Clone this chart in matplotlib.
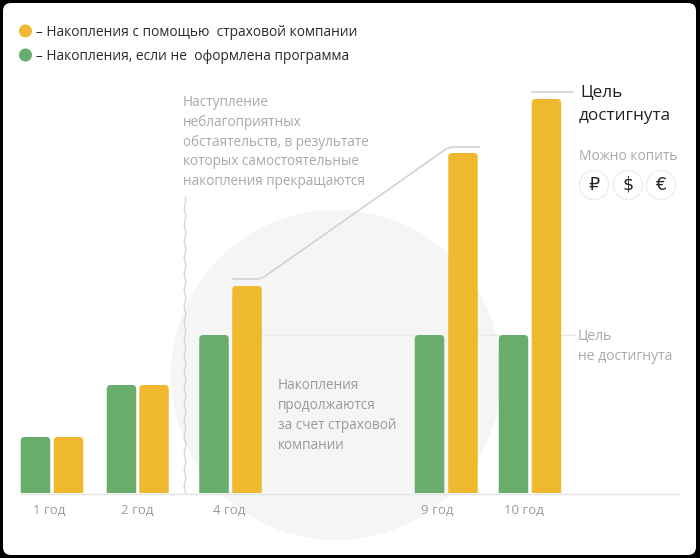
import numpy as np
import matplotlib
matplotlib.use('Agg')
import matplotlib.pyplot as plt
from matplotlib.patches import Circle, FancyBboxPatch, PathPatch
from matplotlib.path import Path

plt.rcParams['font.family'] = ['Open Sans', 'Noto Sans', 'DejaVu Sans']

# Data
years = ['1 год', '2 год', '4 год', '9 год', '10 год']
year_label_x = [49, 137, 229, 437, 524]
green_x = [35.5, 121.5, 214, 429.5, 513.5]
yellow_x = [68.5, 154, 247, 463, 546.5]
green_vals = [56, 108, 158, 158, 158]
yellow_vals = [56, 108, 207, 340, 394]
legend_labels = ['– Накопления с помощью  страховой компании',
                 '– Накопления, если не  оформлена программа']

GREEN = '#68ad6c'
YELLOW = '#eeb92f'
BAR_W = 29.5
LINE = '#d2d2d2'
GREY = '#a9a9a9'


def rounded_bar(ax, x, h, color, r=4):
    l, rr = x - BAR_W / 2, x + BAR_W / 2
    verts = [(l, 0), (l, h - r), (l, h), (l + r, h), (rr - r, h), (rr, h), (rr, h - r), (rr, 0), (l, 0)]
    codes = [Path.MOVETO, Path.LINETO, Path.CURVE3, Path.CURVE3, Path.LINETO,
             Path.CURVE3, Path.CURVE3, Path.LINETO, Path.CLOSEPOLY]
    ax.add_patch(PathPatch(Path(verts, codes), fc=color, ec='none', zorder=3))


fig = plt.figure(figsize=(7, 5.58), dpi=100, facecolor='black')

# Background layer in picture pixels
bg = fig.add_axes([0, 0, 1, 1])
bg.set_xlim(0, 700)
bg.set_ylim(558, 0)
bg.axis('off')
bg.add_patch(FancyBboxPatch((11, 11), 677, 536, boxstyle='round,pad=8,rounding_size=8', fc='white', ec='none', zorder=0))
bg.add_patch(Circle((336, 375), 165, fc='#f5f5f5', ec='none', zorder=1))

# Wavy separator
wy = np.linspace(197, 493, 400)
bg.plot(185 + 0.8 * np.sin(wy / 2.6), wy, color='#d4d4d4', lw=0.9, zorder=2)

# Leader lines
bg.plot([233, 258, 264, 446, 452, 479], [279, 279, 277, 149, 147, 147], color=LINE, lw=1.2, zorder=2)
bg.plot([532, 573], [92, 92], color=LINE, lw=1.2, zorder=2)
bg.plot([262, 415], [335, 335], color='#e8e8e8', lw=1, zorder=2)
bg.plot([478, 499], [335, 335], color='#e8e8e8', lw=1, zorder=2)
bg.plot([561, 575], [335, 335], color='#e8e8e8', lw=1, zorder=2)

# Legend
for y, c, lab in zip([31, 55], [YELLOW, GREEN], legend_labels):
    bg.add_patch(Circle((25.5, y), 6.5, fc=c, ec='none', zorder=3))
    bg.text(36, y + 1, lab, fontsize=9.9, color='#2b2b2b', va='center', ha='left')

# Annotations
note = ['Наступление', 'неблагоприятных', 'обстаятельств, в результате',
        'которых самостоятельные', 'накопления прекращаются']
for i, s in enumerate(note):
    bg.text(183, 102.5 + i * 19.8, s, fontsize=9.8, color=GREY, va='center')
cont = ['Накопления', 'продолжаются', 'за счет страховой', 'компании']
for i, s in enumerate(cont):
    bg.text(278, 385.5 + i * 20, s, fontsize=9.8, color='#9a9a9a', va='center')
bg.text(580, 93, 'Цель', fontsize=12.3, color='#222222', va='center')
bg.text(579, 116, 'достигнута', fontsize=12.3, color='#222222', va='center')
bg.text(579, 156.5, 'Можно копить', fontsize=9.9, color=GREY, va='center')
bg.text(578, 336, 'Цель', fontsize=10, color=GREY, va='center')
bg.text(578, 356, 'не достигнута', fontsize=10, color=GREY, va='center')
for x, s in zip([594, 628, 661], ['₽', '$', '€']):
    bg.add_patch(Circle((x, 185), 14.5, fc='white', ec='#eeeeee', lw=1, zorder=3))
    bg.text(x, 185, s, fontsize=12.5, color='#222222', ha='center', va='center', zorder=4, family='DejaVu Sans')

# Bars, value 0 sits on the baseline at pixel row 493
ax = fig.add_axes([0, 65 / 558, 1, 493 / 558])
ax.patch.set_alpha(0)
ax.set_xlim(0, 700)
ax.set_ylim(0, 493)
for x, v in zip(green_x, green_vals):
    rounded_bar(ax, x, v, GREEN)
for x, v in zip(yellow_x, yellow_vals):
    rounded_bar(ax, x, v, YELLOW)
ax.set_yticks([])
ax.set_xticks(year_label_x, years)
ax.tick_params(axis='x', length=0, pad=8, labelsize=9.5, labelcolor='#9a9a9a')
for s in ['top', 'left', 'right', 'bottom']:
    ax.spines[s].set_visible(False)
bg.plot([21, 678], [493.5, 493.5], color='#e4e4e4', lw=1, zorder=2)

fig.savefig('out.png', dpi=100, facecolor='black')
